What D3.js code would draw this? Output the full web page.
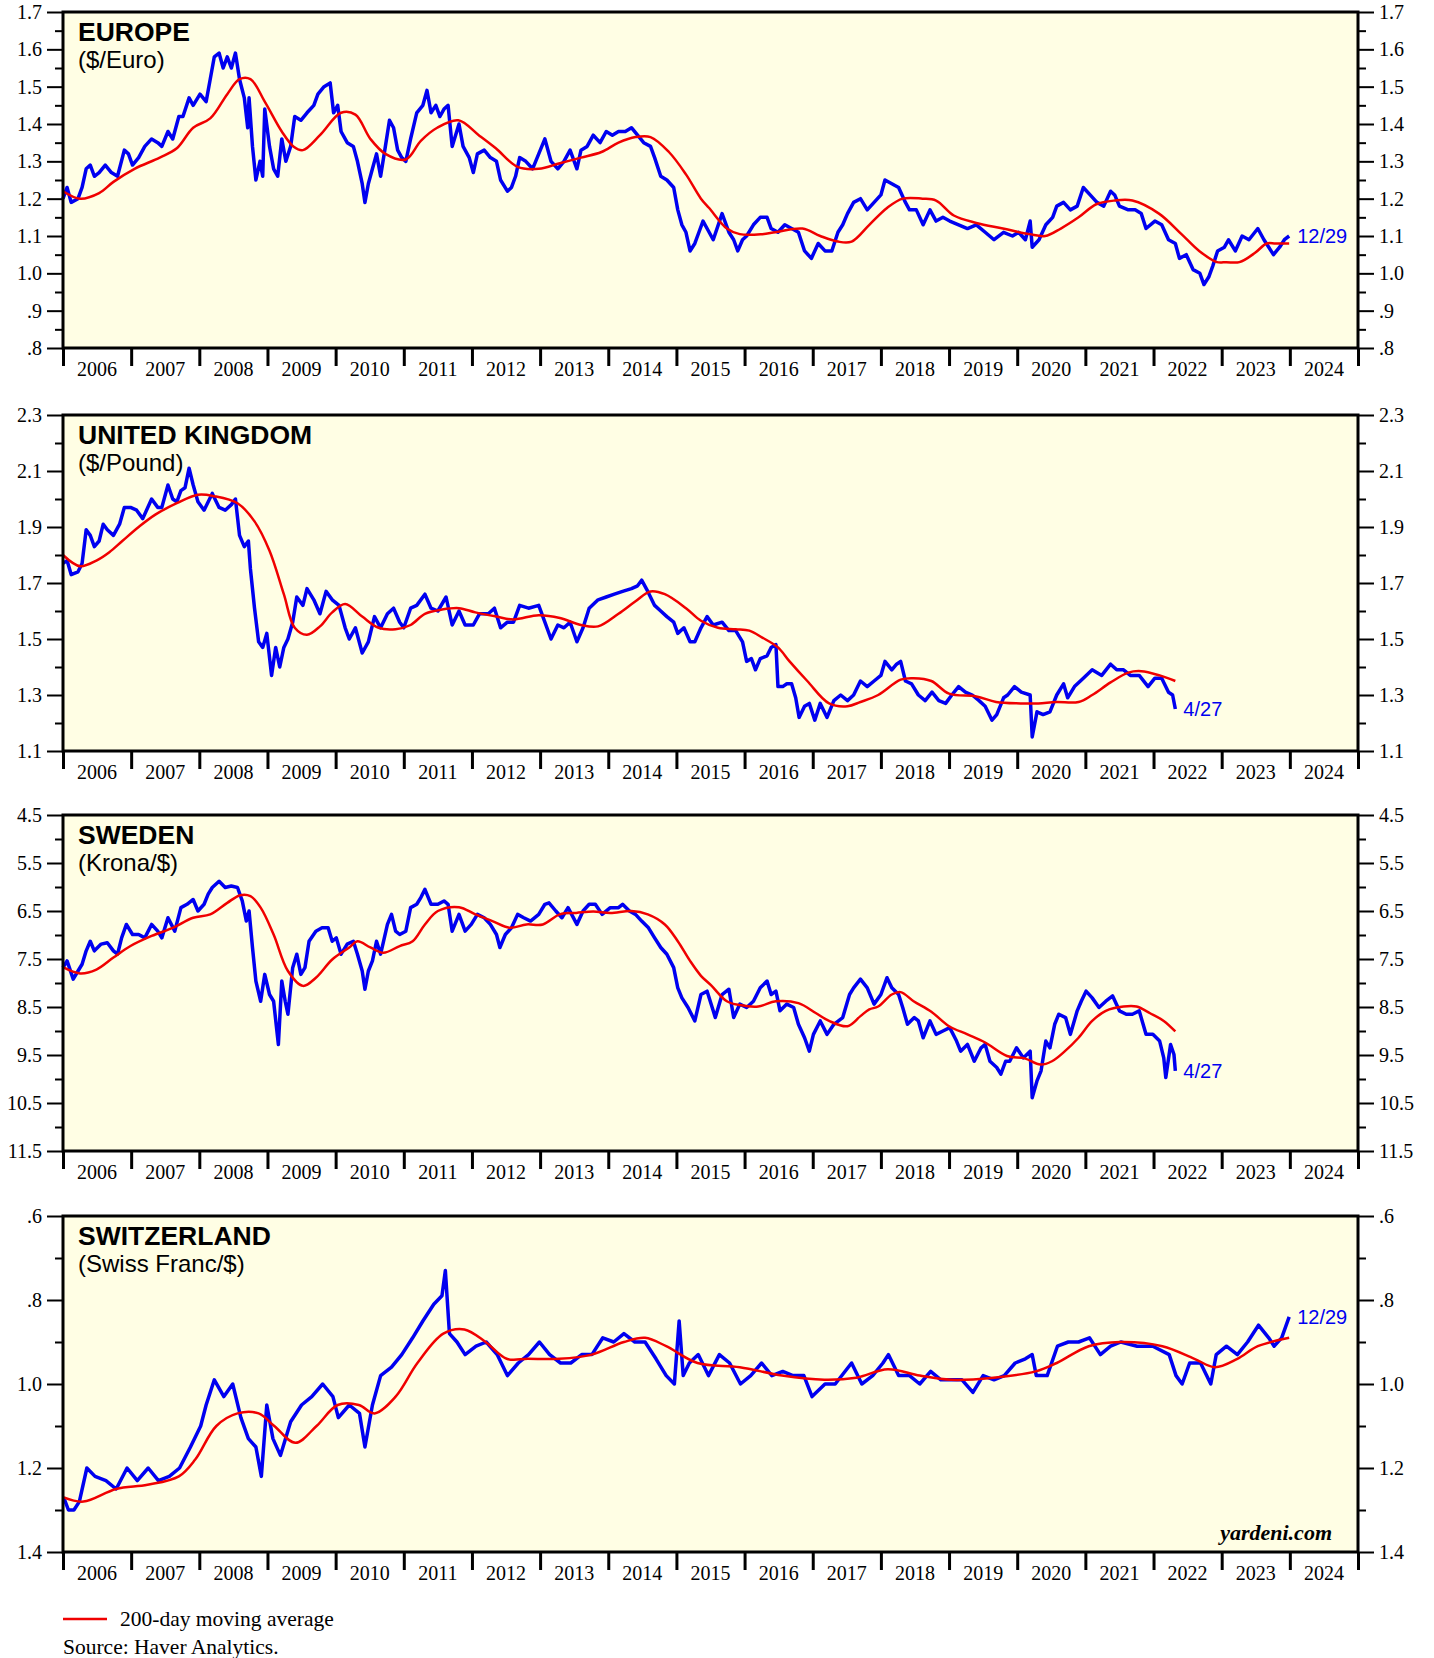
<!DOCTYPE html>
<html>
<head>
<meta charset="utf-8">
<script src="https://cdn.jsdelivr.net/npm/d3@7"></script>
<style>
  body { margin: 0; background: #fff; }
  svg text { font-family: "Liberation Serif", "Times New Roman", serif; }
  .sans { font-family: "Liberation Sans", Arial, sans-serif; }
</style>
</head>
<body>
<svg class="graph" width="1434" height="1658"></svg>
<script>
// year labels along every x axis
var yearLabels = [2006,2007,2008,2009,2010,2011,2012,2013,2014,2015,2016,2017,2018,2019,2020,2021,2022,2023,2024];

// ---- Europe ($/Euro) ----
var eurSpot = [[2006.00,1.20],[2006.06,1.23],[2006.12,1.19],[2006.22,1.20],[2006.28,1.23],[2006.34,1.28],[2006.40,1.29],[2006.46,1.26],[2006.53,1.27],[2006.62,1.29],[2006.71,1.27],[2006.80,1.26],[2006.90,1.33],[2006.96,1.32],[2007.02,1.29],[2007.11,1.31],[2007.20,1.34],[2007.30,1.36],[2007.39,1.35],[2007.45,1.34],[2007.54,1.38],[2007.61,1.36],[2007.70,1.42],[2007.76,1.42],[2007.85,1.47],[2007.91,1.45],[2008.01,1.48],[2008.10,1.46],[2008.16,1.52],[2008.22,1.58],[2008.29,1.59],[2008.35,1.55],[2008.41,1.58],[2008.47,1.55],[2008.53,1.59],[2008.59,1.52],[2008.66,1.47],[2008.71,1.39],[2008.73,1.47],[2008.78,1.34],[2008.83,1.25],[2008.89,1.30],[2008.93,1.26],[2008.96,1.44],[2009.03,1.34],[2009.09,1.28],[2009.15,1.26],[2009.21,1.36],[2009.27,1.30],[2009.34,1.34],[2009.40,1.42],[2009.49,1.41],[2009.58,1.43],[2009.68,1.45],[2009.74,1.48],[2009.83,1.50],[2009.92,1.51],[2009.97,1.43],[2010.03,1.45],[2010.08,1.38],[2010.17,1.35],[2010.26,1.34],[2010.32,1.30],[2010.39,1.24],[2010.43,1.19],[2010.48,1.24],[2010.54,1.28],[2010.60,1.32],[2010.66,1.26],[2010.73,1.34],[2010.79,1.41],[2010.85,1.39],[2010.91,1.33],[2010.97,1.31],[2011.03,1.30],[2011.10,1.36],[2011.19,1.43],[2011.28,1.45],[2011.34,1.49],[2011.40,1.43],[2011.47,1.45],[2011.53,1.42],[2011.59,1.44],[2011.65,1.45],[2011.71,1.34],[2011.81,1.40],[2011.87,1.34],[2011.96,1.31],[2012.02,1.27],[2012.08,1.32],[2012.18,1.33],[2012.27,1.31],[2012.36,1.30],[2012.42,1.25],[2012.52,1.22],[2012.58,1.23],[2012.64,1.26],[2012.70,1.31],[2012.79,1.30],[2012.89,1.28],[2012.98,1.32],[2013.07,1.36],[2013.16,1.30],[2013.26,1.28],[2013.35,1.30],[2013.44,1.33],[2013.54,1.28],[2013.60,1.33],[2013.69,1.34],[2013.78,1.37],[2013.88,1.35],[2013.97,1.38],[2014.06,1.37],[2014.15,1.38],[2014.25,1.38],[2014.34,1.39],[2014.43,1.37],[2014.52,1.35],[2014.62,1.34],[2014.68,1.31],[2014.77,1.26],[2014.86,1.25],[2014.96,1.23],[2015.02,1.17],[2015.08,1.13],[2015.14,1.11],[2015.20,1.06],[2015.27,1.08],[2015.33,1.11],[2015.39,1.14],[2015.45,1.12],[2015.54,1.09],[2015.67,1.16],[2015.77,1.11],[2015.84,1.09],[2015.90,1.06],[2015.97,1.09],[2016.03,1.10],[2016.13,1.13],[2016.23,1.15],[2016.33,1.15],[2016.39,1.12],[2016.49,1.11],[2016.59,1.13],[2016.69,1.12],[2016.79,1.11],[2016.88,1.06],[2016.98,1.04],[2017.08,1.08],[2017.18,1.06],[2017.28,1.06],[2017.37,1.11],[2017.44,1.13],[2017.51,1.16],[2017.60,1.19],[2017.70,1.20],[2017.80,1.17],[2017.90,1.19],[2018.00,1.21],[2018.06,1.25],[2018.16,1.24],[2018.26,1.23],[2018.36,1.19],[2018.42,1.17],[2018.52,1.17],[2018.62,1.13],[2018.72,1.17],[2018.81,1.14],[2018.91,1.15],[2019.01,1.14],[2019.14,1.13],[2019.27,1.12],[2019.40,1.13],[2019.53,1.11],[2019.66,1.09],[2019.80,1.11],[2019.93,1.10],[2020.02,1.11],[2020.12,1.09],[2020.19,1.14],[2020.22,1.07],[2020.32,1.09],[2020.42,1.13],[2020.52,1.15],[2020.58,1.18],[2020.68,1.19],[2020.78,1.17],[2020.88,1.18],[2020.97,1.23],[2021.07,1.21],[2021.17,1.19],[2021.27,1.18],[2021.37,1.22],[2021.43,1.21],[2021.50,1.18],[2021.63,1.17],[2021.73,1.17],[2021.82,1.16],[2021.89,1.12],[2022.02,1.14],[2022.12,1.13],[2022.22,1.09],[2022.32,1.08],[2022.38,1.04],[2022.48,1.05],[2022.58,1.01],[2022.68,1.00],[2022.74,0.97],[2022.81,0.99],[2022.87,1.02],[2022.94,1.06],[2023.04,1.07],[2023.10,1.09],[2023.20,1.06],[2023.30,1.10],[2023.40,1.09],[2023.53,1.12],[2023.62,1.09],[2023.76,1.05],[2023.85,1.07],[2023.92,1.09],[2023.99,1.10]];
var eurMa = [[2006.00,1.22],[2006.25,1.20],[2006.53,1.215],[2006.74,1.245],[2007.05,1.28],[2007.42,1.31],[2007.67,1.335],[2007.91,1.39],[2008.16,1.415],[2008.41,1.48],[2008.59,1.52],[2008.75,1.52],[2008.96,1.46],[2009.21,1.38],[2009.38,1.34],[2009.52,1.33],[2009.77,1.37],[2010.08,1.43],[2010.29,1.425],[2010.51,1.36],[2010.73,1.32],[2011.03,1.305],[2011.25,1.355],[2011.49,1.39],[2011.80,1.41],[2012.10,1.37],[2012.35,1.335],[2012.67,1.285],[2012.98,1.28],[2013.29,1.295],[2013.60,1.31],[2013.90,1.325],[2014.15,1.35],[2014.40,1.365],[2014.62,1.365],[2014.89,1.325],[2015.14,1.265],[2015.36,1.20],[2015.48,1.175],[2015.74,1.12],[2015.93,1.105],[2016.26,1.105],[2016.45,1.11],[2016.85,1.12],[2017.11,1.10],[2017.37,1.085],[2017.57,1.085],[2017.83,1.13],[2018.09,1.175],[2018.32,1.20],[2018.61,1.20],[2018.81,1.195],[2019.07,1.155],[2019.40,1.135],[2019.79,1.12],[2020.18,1.105],[2020.41,1.10],[2020.64,1.12],[2020.90,1.15],[2021.16,1.185],[2021.43,1.195],[2021.69,1.195],[2022.08,1.16],[2022.41,1.105],[2022.67,1.06],[2022.93,1.03],[2023.07,1.03],[2023.26,1.03],[2023.49,1.055],[2023.66,1.08],[2023.79,1.08],[2023.99,1.08]];
var eurTicks = [0.8,0.9,1.0,1.1,1.2,1.3,1.4,1.5,1.6,1.7];

// ---- United Kingdom ($/Pound) ----
var gbpSpot = [[2006.00,1.77],[2006.06,1.78],[2006.12,1.73],[2006.22,1.74],[2006.28,1.77],[2006.34,1.89],[2006.40,1.87],[2006.46,1.83],[2006.53,1.85],[2006.59,1.91],[2006.65,1.89],[2006.74,1.87],[2006.83,1.91],[2006.90,1.97],[2006.99,1.97],[2007.08,1.96],[2007.17,1.93],[2007.30,2.00],[2007.39,1.97],[2007.45,1.97],[2007.54,2.05],[2007.61,2.00],[2007.67,1.99],[2007.73,2.03],[2007.79,2.04],[2007.85,2.11],[2007.91,2.05],[2007.98,1.99],[2008.07,1.96],[2008.19,2.02],[2008.29,1.97],[2008.38,1.96],[2008.47,1.98],[2008.53,2.00],[2008.59,1.87],[2008.66,1.83],[2008.72,1.85],[2008.75,1.75],[2008.81,1.61],[2008.87,1.49],[2008.93,1.47],[2008.99,1.52],[2009.06,1.37],[2009.12,1.47],[2009.18,1.40],[2009.24,1.47],[2009.30,1.50],[2009.37,1.56],[2009.43,1.65],[2009.52,1.62],[2009.58,1.68],[2009.68,1.64],[2009.77,1.59],[2009.86,1.67],[2009.95,1.64],[2010.05,1.62],[2010.14,1.54],[2010.20,1.50],[2010.29,1.54],[2010.39,1.45],[2010.48,1.49],[2010.57,1.58],[2010.66,1.54],[2010.76,1.59],[2010.85,1.61],[2010.94,1.56],[2011.00,1.54],[2011.10,1.61],[2011.19,1.62],[2011.31,1.66],[2011.40,1.61],[2011.50,1.60],[2011.62,1.65],[2011.71,1.55],[2011.81,1.60],[2011.90,1.55],[2012.02,1.55],[2012.11,1.59],[2012.24,1.59],[2012.33,1.61],[2012.42,1.54],[2012.52,1.56],[2012.61,1.56],[2012.70,1.62],[2012.83,1.61],[2012.98,1.62],[2013.07,1.56],[2013.16,1.50],[2013.26,1.55],[2013.35,1.54],[2013.44,1.56],[2013.54,1.49],[2013.63,1.54],[2013.72,1.61],[2013.85,1.64],[2013.97,1.65],[2014.09,1.66],[2014.21,1.67],[2014.34,1.68],[2014.43,1.69],[2014.49,1.71],[2014.58,1.67],[2014.68,1.62],[2014.77,1.60],[2014.86,1.58],[2014.96,1.56],[2015.02,1.52],[2015.11,1.54],[2015.20,1.49],[2015.27,1.49],[2015.36,1.54],[2015.45,1.58],[2015.54,1.55],[2015.67,1.56],[2015.77,1.53],[2015.87,1.53],[2015.97,1.49],[2016.03,1.42],[2016.10,1.43],[2016.16,1.39],[2016.23,1.43],[2016.33,1.44],[2016.39,1.47],[2016.46,1.48],[2016.49,1.33],[2016.56,1.33],[2016.62,1.34],[2016.69,1.34],[2016.75,1.29],[2016.80,1.22],[2016.88,1.26],[2016.95,1.27],[2017.03,1.21],[2017.11,1.27],[2017.21,1.22],[2017.31,1.28],[2017.41,1.30],[2017.51,1.28],[2017.60,1.30],[2017.70,1.35],[2017.80,1.33],[2017.90,1.35],[2018.00,1.37],[2018.06,1.42],[2018.16,1.39],[2018.23,1.41],[2018.29,1.42],[2018.36,1.35],[2018.45,1.34],[2018.55,1.30],[2018.65,1.28],[2018.75,1.31],[2018.85,1.28],[2018.95,1.27],[2019.04,1.30],[2019.14,1.33],[2019.24,1.31],[2019.34,1.30],[2019.44,1.28],[2019.53,1.26],[2019.63,1.21],[2019.70,1.23],[2019.80,1.29],[2019.86,1.30],[2019.96,1.33],[2020.06,1.31],[2020.19,1.30],[2020.22,1.15],[2020.29,1.24],[2020.38,1.23],[2020.48,1.24],[2020.58,1.30],[2020.68,1.34],[2020.74,1.29],[2020.84,1.33],[2020.97,1.36],[2021.10,1.39],[2021.24,1.37],[2021.37,1.41],[2021.46,1.39],[2021.56,1.39],[2021.66,1.37],[2021.79,1.37],[2021.92,1.33],[2022.02,1.36],[2022.12,1.36],[2022.22,1.31],[2022.28,1.30],[2022.32,1.25]];
var gbpMa = [[2006.00,1.80],[2006.25,1.76],[2006.49,1.78],[2006.68,1.81],[2006.87,1.85],[2007.11,1.90],[2007.36,1.945],[2007.67,1.985],[2007.98,2.015],[2008.22,2.01],[2008.56,1.985],[2008.81,1.92],[2009.03,1.815],[2009.24,1.66],[2009.40,1.54],[2009.58,1.515],[2009.77,1.545],[2009.95,1.595],[2010.14,1.625],[2010.39,1.58],[2010.63,1.54],[2010.88,1.535],[2011.10,1.55],[2011.31,1.59],[2011.56,1.605],[2011.81,1.61],[2012.05,1.595],[2012.36,1.58],[2012.61,1.57],[2012.98,1.585],[2013.29,1.575],[2013.60,1.55],[2013.85,1.545],[2014.15,1.59],[2014.40,1.635],[2014.62,1.67],[2014.83,1.66],[2015.14,1.61],[2015.36,1.565],[2015.61,1.54],[2015.87,1.535],[2016.07,1.53],[2016.26,1.505],[2016.49,1.47],[2016.66,1.42],[2016.92,1.35],[2017.24,1.27],[2017.51,1.26],[2017.70,1.275],[2017.96,1.30],[2018.29,1.355],[2018.48,1.36],[2018.74,1.35],[2019.00,1.305],[2019.40,1.295],[2019.69,1.275],[2020.05,1.27],[2020.31,1.27],[2020.57,1.275],[2020.90,1.275],[2021.10,1.30],[2021.37,1.345],[2021.63,1.38],[2021.82,1.385],[2022.09,1.37],[2022.32,1.35]];
var gbpTicks = [1.1,1.3,1.5,1.7,1.9,2.1,2.3];

// ---- Sweden (Krona/$), inverted axis ----
var sekSpot = [[2006.00,7.68],[2006.06,7.54],[2006.15,7.92],[2006.22,7.75],[2006.28,7.61],[2006.34,7.33],[2006.40,7.13],[2006.46,7.33],[2006.56,7.19],[2006.65,7.16],[2006.74,7.33],[2006.80,7.40],[2006.86,7.06],[2006.93,6.78],[2007.02,6.99],[2007.11,6.99],[2007.20,7.06],[2007.30,6.78],[2007.39,6.92],[2007.45,7.06],[2007.54,6.64],[2007.64,6.92],[2007.73,6.43],[2007.82,6.36],[2007.91,6.26],[2007.98,6.50],[2008.07,6.36],[2008.13,6.15],[2008.19,6.01],[2008.29,5.88],[2008.38,6.01],[2008.47,5.98],[2008.56,6.01],[2008.63,6.29],[2008.69,6.71],[2008.73,6.50],[2008.78,7.26],[2008.83,7.96],[2008.90,8.38],[2008.96,7.82],[2009.03,8.24],[2009.09,8.38],[2009.16,9.28],[2009.21,7.96],[2009.26,8.38],[2009.30,8.65],[2009.37,7.68],[2009.43,7.40],[2009.49,7.82],[2009.55,7.68],[2009.61,7.13],[2009.71,6.92],[2009.80,6.85],[2009.89,6.85],[2009.95,7.13],[2010.01,7.06],[2010.08,7.40],[2010.17,7.19],[2010.26,7.13],[2010.32,7.40],[2010.39,7.75],[2010.43,8.13],[2010.48,7.75],[2010.54,7.54],[2010.60,7.13],[2010.66,7.40],[2010.76,6.78],[2010.82,6.57],[2010.88,6.92],[2010.94,6.99],[2011.03,6.92],[2011.10,6.43],[2011.19,6.36],[2011.25,6.22],[2011.31,6.05],[2011.40,6.36],[2011.50,6.36],[2011.59,6.29],[2011.65,6.36],[2011.71,6.92],[2011.81,6.57],[2011.90,6.92],[2011.99,6.78],[2012.08,6.57],[2012.18,6.64],[2012.27,6.78],[2012.36,6.99],[2012.41,7.26],[2012.49,6.99],[2012.58,6.85],[2012.67,6.57],[2012.76,6.64],[2012.86,6.71],[2012.98,6.57],[2013.07,6.36],[2013.13,6.33],[2013.23,6.50],[2013.32,6.64],[2013.41,6.43],[2013.54,6.78],[2013.63,6.50],[2013.72,6.36],[2013.81,6.36],[2013.91,6.57],[2014.03,6.43],[2014.15,6.43],[2014.21,6.36],[2014.31,6.50],[2014.40,6.57],[2014.49,6.71],[2014.59,6.85],[2014.68,7.06],[2014.77,7.26],[2014.86,7.40],[2014.96,7.68],[2015.02,8.10],[2015.08,8.31],[2015.17,8.51],[2015.27,8.79],[2015.36,8.24],[2015.45,8.17],[2015.54,8.58],[2015.57,8.72],[2015.67,8.24],[2015.77,8.13],[2015.84,8.72],[2015.93,8.44],[2016.03,8.51],[2016.13,8.38],[2016.23,8.10],[2016.33,7.96],[2016.39,8.24],[2016.46,8.17],[2016.52,8.58],[2016.62,8.44],[2016.72,8.51],[2016.79,8.86],[2016.88,9.14],[2016.95,9.42],[2017.01,9.07],[2017.11,8.79],[2017.21,9.07],[2017.31,8.86],[2017.44,8.72],[2017.54,8.24],[2017.60,8.10],[2017.70,7.92],[2017.80,8.10],[2017.90,8.44],[2018.00,8.24],[2018.09,7.89],[2018.16,8.10],[2018.26,8.24],[2018.32,8.51],[2018.39,8.86],[2018.49,8.72],[2018.55,8.79],[2018.62,9.14],[2018.72,8.79],[2018.81,9.07],[2018.91,9.00],[2019.01,8.93],[2019.11,9.21],[2019.17,9.42],[2019.27,9.28],[2019.37,9.63],[2019.47,9.35],[2019.53,9.28],[2019.60,9.63],[2019.70,9.76],[2019.76,9.90],[2019.83,9.63],[2019.89,9.63],[2019.99,9.35],[2020.09,9.56],[2020.19,9.42],[2020.22,10.39],[2020.29,10.04],[2020.35,9.83],[2020.42,9.21],[2020.48,9.35],[2020.55,8.86],[2020.61,8.65],[2020.71,8.72],[2020.78,9.07],[2020.88,8.58],[2020.94,8.38],[2021.01,8.17],[2021.10,8.31],[2021.20,8.51],[2021.30,8.38],[2021.40,8.27],[2021.50,8.58],[2021.60,8.65],[2021.69,8.65],[2021.79,8.58],[2021.89,9.07],[2021.99,9.07],[2022.09,9.21],[2022.15,9.56],[2022.18,9.97],[2022.25,9.28],[2022.30,9.49],[2022.32,9.83]];
var sekMa = [[2006.00,7.67],[2006.25,7.80],[2006.49,7.72],[2006.74,7.47],[2006.99,7.23],[2007.30,7.02],[2007.61,6.85],[2007.91,6.64],[2008.16,6.57],[2008.41,6.33],[2008.60,6.17],[2008.75,6.19],[2008.90,6.43],[2009.09,6.99],[2009.30,7.75],[2009.52,8.06],[2009.71,7.89],[2009.95,7.51],[2010.20,7.26],[2010.32,7.13],[2010.51,7.26],[2010.70,7.37],[2010.94,7.23],[2011.13,7.13],[2011.31,6.78],[2011.50,6.50],[2011.81,6.42],[2012.05,6.57],[2012.30,6.71],[2012.55,6.85],[2012.80,6.78],[2013.04,6.78],[2013.29,6.57],[2013.53,6.54],[2013.78,6.51],[2014.03,6.54],[2014.34,6.50],[2014.58,6.57],[2014.83,6.78],[2015.02,7.13],[2015.20,7.54],[2015.36,7.85],[2015.51,8.05],[2015.74,8.38],[2015.93,8.46],[2016.20,8.49],[2016.46,8.38],[2016.79,8.42],[2017.05,8.63],[2017.24,8.79],[2017.51,8.90],[2017.70,8.69],[2017.83,8.55],[2017.96,8.49],[2018.16,8.24],[2018.29,8.19],[2018.48,8.38],[2018.74,8.60],[2019.00,8.90],[2019.27,9.07],[2019.53,9.24],[2019.85,9.52],[2020.11,9.57],[2020.34,9.70],[2020.51,9.63],[2020.70,9.42],[2020.90,9.14],[2021.10,8.79],[2021.30,8.58],[2021.56,8.49],[2021.75,8.49],[2021.95,8.63],[2022.15,8.79],[2022.32,9.01]];
var sekTicks = [4.5,5.5,6.5,7.5,8.5,9.5,10.5,11.5];

// ---- Switzerland (Swiss Franc/$), inverted axis ----
var chfSpot = [[2006.01,1.27],[2006.08,1.30],[2006.16,1.30],[2006.24,1.28],[2006.35,1.20],[2006.47,1.22],[2006.63,1.23],[2006.78,1.25],[2006.94,1.20],[2007.09,1.23],[2007.25,1.20],[2007.40,1.23],[2007.56,1.22],[2007.71,1.20],[2007.87,1.15],[2008.02,1.10],[2008.10,1.05],[2008.22,0.99],[2008.36,1.03],[2008.49,1.00],[2008.61,1.08],[2008.72,1.13],[2008.83,1.15],[2008.91,1.22],[2008.99,1.05],[2009.08,1.13],[2009.19,1.17],[2009.34,1.09],[2009.50,1.05],[2009.65,1.03],[2009.81,1.00],[2009.96,1.03],[2010.04,1.08],[2010.20,1.05],[2010.35,1.07],[2010.43,1.15],[2010.54,1.05],[2010.66,0.98],[2010.82,0.96],[2010.97,0.93],[2011.13,0.89],[2011.28,0.85],[2011.44,0.81],[2011.56,0.79],[2011.61,0.73],[2011.67,0.88],[2011.78,0.90],[2011.90,0.93],[2012.06,0.91],[2012.21,0.90],[2012.37,0.93],[2012.52,0.98],[2012.68,0.95],[2012.83,0.93],[2012.99,0.90],[2013.14,0.93],[2013.30,0.95],[2013.45,0.95],[2013.61,0.93],[2013.76,0.93],[2013.92,0.89],[2014.08,0.90],[2014.23,0.88],[2014.39,0.90],[2014.54,0.90],[2014.70,0.94],[2014.85,0.98],[2014.97,1.00],[2015.04,0.85],[2015.10,0.98],[2015.19,0.95],[2015.32,0.93],[2015.47,0.98],[2015.63,0.93],[2015.78,0.95],[2015.94,1.00],[2016.09,0.98],[2016.25,0.95],[2016.40,0.98],[2016.56,0.97],[2016.71,0.98],[2016.87,0.98],[2016.99,1.03],[2017.18,1.00],[2017.33,1.00],[2017.57,0.95],[2017.72,1.00],[2017.88,0.98],[2018.03,0.95],[2018.11,0.93],[2018.26,0.98],[2018.42,0.98],[2018.57,1.00],[2018.73,0.97],[2018.88,0.99],[2019.04,0.99],[2019.19,0.99],[2019.35,1.02],[2019.50,0.98],[2019.66,0.99],[2019.81,0.98],[2019.97,0.95],[2020.12,0.94],[2020.22,0.93],[2020.28,0.98],[2020.44,0.98],[2020.59,0.91],[2020.75,0.90],[2020.90,0.90],[2021.06,0.89],[2021.22,0.93],[2021.37,0.91],[2021.52,0.90],[2021.76,0.91],[2021.99,0.91],[2022.23,0.93],[2022.33,0.98],[2022.42,1.00],[2022.53,0.95],[2022.69,0.95],[2022.84,1.00],[2022.92,0.93],[2023.07,0.91],[2023.23,0.93],[2023.38,0.90],[2023.54,0.86],[2023.69,0.89],[2023.77,0.91],[2023.88,0.89],[2023.99,0.84]];
var chfMa = [[2006.01,1.27],[2006.30,1.28],[2006.78,1.25],[2007.24,1.24],[2007.70,1.22],[2007.94,1.18],[2008.25,1.10],[2008.56,1.07],[2008.87,1.07],[2009.10,1.10],[2009.41,1.14],[2009.72,1.10],[2010.03,1.05],[2010.34,1.05],[2010.57,1.07],[2010.88,1.03],[2011.20,0.95],[2011.58,0.88],[2011.89,0.87],[2012.20,0.90],[2012.51,0.94],[2012.82,0.94],[2013.28,0.94],[2013.76,0.93],[2014.23,0.90],[2014.54,0.89],[2014.85,0.91],[2015.31,0.95],[2015.93,0.96],[2016.55,0.98],[2017.17,0.99],[2017.64,0.985],[2018.10,0.965],[2018.57,0.98],[2019.03,0.99],[2019.65,0.985],[2020.27,0.97],[2020.58,0.95],[2021.05,0.91],[2021.51,0.90],[2022.13,0.91],[2022.60,0.94],[2022.90,0.96],[2023.23,0.94],[2023.53,0.91],[2023.99,0.89]];
var chfTicks = [0.6,0.8,1.0,1.2,1.4];

var panels = [
  {title: "EUROPE", unit: "($/Euro)", spot: eurSpot, ma: eurMa, ticks: eurTicks, domain: [0.8, 1.7], inverted: false, last: "12/29"},
  {title: "UNITED KINGDOM", unit: "($/Pound)", spot: gbpSpot, ma: gbpMa, ticks: gbpTicks, domain: [1.1, 2.3], inverted: false, last: "4/27"},
  {title: "SWEDEN", unit: "(Krona/$)", spot: sekSpot, ma: sekMa, ticks: sekTicks, domain: [4.5, 11.5], inverted: true, last: "4/27"},
  {title: "SWITZERLAND", unit: "(Swiss Franc/$)", spot: chfSpot, ma: chfMa, ticks: chfTicks, domain: [0.6, 1.4], inverted: true, last: "12/29"}
];

var svg = d3.select("svg.graph");
var left = 63, right = 1358, ph = 336;
var tops = [12, 415, 815, 1216];
var blue = "#0000f0", red = "#f00000", fill = "#fffee4";

var x = d3.scaleLinear().domain([2006, 2025]).range([left, right]);

function fmt(v) {
  var s = d3.format(".1f")(v);
  return v < 1 ? s.slice(1) : s;
}

panels.forEach(function(p, i) {
  var top = tops[i], bottom = top + ph;
  var y = d3.scaleLinear().domain(p.domain)
    .range(p.inverted ? [top, bottom] : [bottom, top]);
  var g = svg.append("g").attr("class", "panel");

  g.append("rect").attr("x", left).attr("y", top)
    .attr("width", right - left).attr("height", ph)
    .attr("fill", fill);

  // minor ticks halfway between labelled ones
  var minor = d3.pairs(p.ticks).map(function(d){ return (d[0] + d[1]) / 2; });

  var axisL = d3.axisLeft(y).tickValues(p.ticks).tickSize(16).tickPadding(5).tickFormat(fmt);
  var axisR = d3.axisRight(y).tickValues(p.ticks).tickSize(16).tickPadding(5).tickFormat(fmt);
  var minL = d3.axisLeft(y).tickValues(minor).tickSize(8).tickFormat("");
  var minR = d3.axisRight(y).tickValues(minor).tickSize(8).tickFormat("");

  [[axisL, left], [minL, left], [axisR, right], [minR, right]].forEach(function(a) {
    var ag = g.append("g").attr("transform", "translate(" + a[1] + ",0)").call(a[0]);
    ag.select(".domain").remove();
    ag.selectAll("line").attr("stroke", "#000").attr("stroke-width", 2);
    ag.selectAll("text").attr("font-size", 20).attr("fill", "#000")
      .attr("font-family", "Liberation Serif, serif");
  });

  // year ticks along the bottom
  var xa = d3.axisBottom(x).tickValues(d3.range(2006, 2026)).tickSize(18).tickFormat("");
  var xg = g.append("g").attr("transform", "translate(0," + bottom + ")").call(xa);
  xg.select(".domain").remove();
  xg.selectAll("line").attr("stroke", "#000").attr("stroke-width", 3);
  g.selectAll(".yr").data(yearLabels).join("text")
    .attr("x", function(d){ return x(d + 0.5); })
    .attr("y", bottom + 28)
    .attr("text-anchor", "middle")
    .attr("font-size", 20)
    .text(function(d){ return d; });

  var line = d3.line().x(function(d){ return x(d[0]); }).y(function(d){ return y(d[1]); });

  g.append("path").datum(p.spot)
    .attr("d", line)
    .attr("fill", "none").attr("stroke", blue).attr("stroke-width", 3.5)
    .attr("stroke-linejoin", "round");
  g.append("path").datum(p.ma)
    .attr("d", line.curve(d3.curveCatmullRom))
    .attr("fill", "none").attr("stroke", red).attr("stroke-width", 2.5);

  var end = p.spot[p.spot.length - 1];
  g.append("text").attr("class", "sans")
    .attr("x", x(end[0]) + 8).attr("y", y(end[1]) + 7)
    .attr("fill", blue).attr("font-size", 20)
    .text(p.last);

  g.append("rect").attr("x", left).attr("y", top)
    .attr("width", right - left).attr("height", ph)
    .attr("fill", "none").attr("stroke", "#000").attr("stroke-width", 3);

  g.append("text").attr("class", "sans")
    .attr("x", 78).attr("y", top + 29)
    .attr("font-size", 26.5).attr("font-weight", "bold")
    .text(p.title);
  g.append("text").attr("class", "sans")
    .attr("x", 78).attr("y", top + 56)
    .attr("font-size", 24)
    .text(p.unit);
});

svg.append("text")
  .attr("x", 1332).attr("y", 1540)
  .attr("text-anchor", "end")
  .attr("font-size", 22).attr("font-weight", "bold").attr("font-style", "italic")
  .text("yardeni.com");

// legend + source
svg.append("line").attr("x1", 63).attr("x2", 107).attr("y1", 1619).attr("y2", 1619)
  .attr("stroke", red).attr("stroke-width", 2.5);
svg.append("text").attr("x", 120).attr("y", 1626).attr("font-size", 21.5)
  .text("200-day moving average");
svg.append("text").attr("x", 63).attr("y", 1654).attr("font-size", 21.5)
  .text("Source: Haver Analytics.");
</script>
</body>
</html>
